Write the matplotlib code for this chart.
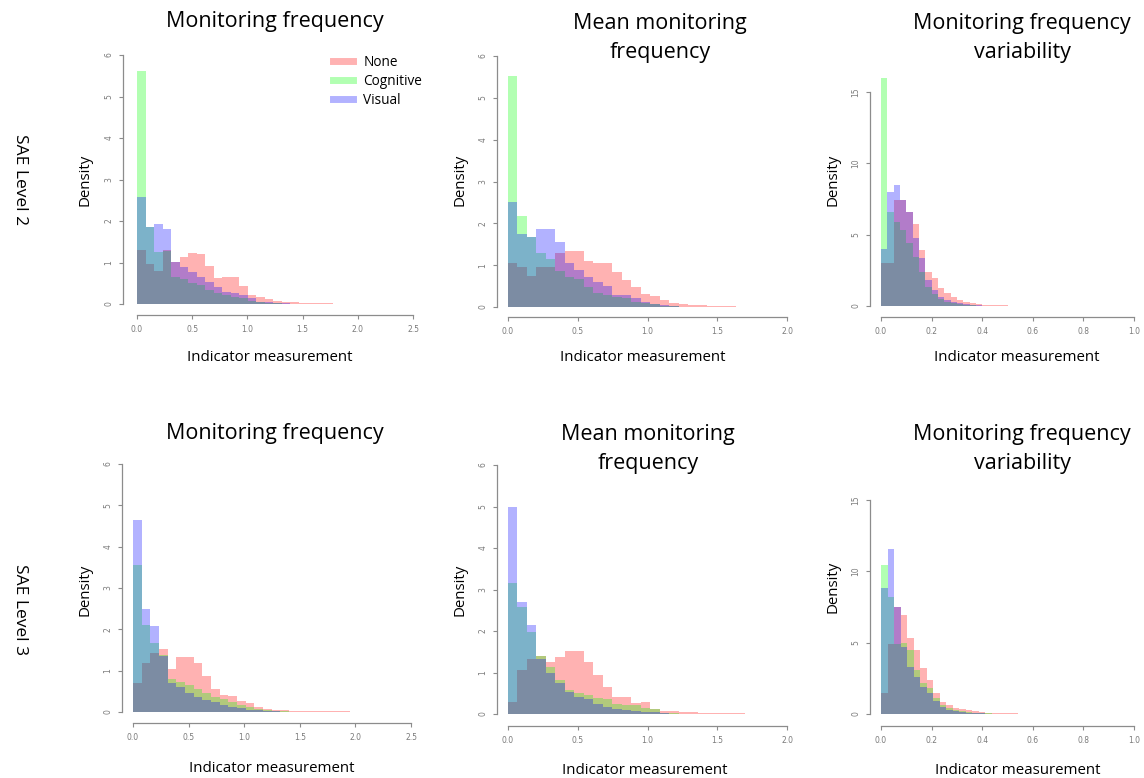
import numpy as np
import matplotlib
matplotlib.use("Agg")
import matplotlib.pyplot as plt
from matplotlib.lines import Line2D

W, H = 1144, 778

groups = ["None", "Cognitive", "Visual"]
colors = [(1, 0, 0, 0.3), (0, 1, 0, 0.3), (0, 0, 1, 0.3)]

titles = ["Monitoring frequency", "Mean monitoring\nfrequency", "Monitoring frequency\nvariability"]
row_labels = ["SAE Level 2", "SAE Level 3"]

# bin widths of each histogram (R breaks)
bin_w = [0.077, 0.068, 0.025, 0.078, 0.068, 0.0257]

# densities per bin
none1 = [1.29, 0.96, 0.80, 1.30, 1.02, 1.14, 1.24, 1.20, 0.92, 0.62, 0.66, 0.64, 0.44,
         0.22, 0.18, 0.13, 0.08, 0.05, 0.04, 0.03, 0.025, 0.02, 0.015, 0.01, 0.01]
cog1 = [5.62, 1.85, 1.25, 1.28, 0.66, 0.60, 0.50, 0.46, 0.34, 0.26, 0.22, 0.18, 0.14,
        0.08, 0.05, 0.03, 0.02, 0.01, 0.01, 0, 0, 0, 0, 0, 0]
vis1 = [2.59, 1.85, 1.93, 1.80, 1.02, 0.90, 0.78, 0.66, 0.54, 0.42, 0.30, 0.27, 0.22,
        0.14, 0.06, 0.04, 0.03, 0.02, 0.01, 0.01, 0, 0, 0, 0, 0]

none2 = [1.06, 0.96, 0.75, 0.96, 0.96, 1.28, 1.35, 1.35, 1.10, 1.04, 1.04, 0.84, 0.65,
         0.48, 0.32, 0.26, 0.16, 0.10, 0.07, 0.05, 0.04, 0.03, 0.02, 0.015, 0.01]
cog2 = [5.51, 2.18, 1.68, 1.30, 1.15, 0.85, 0.72, 0.68, 0.49, 0.34, 0.29, 0.25, 0.21,
        0.13, 0.10, 0.08, 0.03, 0.02, 0.01, 0, 0, 0, 0, 0, 0]
vis2 = [2.52, 1.75, 1.68, 1.86, 1.86, 1.56, 1.04, 0.88, 0.72, 0.60, 0.50, 0.29, 0.29,
        0.21, 0.12, 0.08, 0.04, 0.02, 0.01, 0, 0, 0, 0, 0, 0]

none3 = [3.04, 3.04, 7.43, 7.43, 6.60, 5.75, 3.90, 2.40, 1.94, 1.24, 0.90, 0.65, 0.42,
         0.30, 0.20, 0.12, 0.08, 0.06, 0.05, 0.04, 0.03, 0.02]
cog3 = [15.96, 6.60, 5.90, 5.30, 4.40, 3.46, 2.40, 1.35, 0.84, 0.47, 0.30, 0.20, 0.12,
        0.08, 0.05, 0.03, 0.02, 0.01, 0.01, 0, 0, 0]
vis3 = [4.00, 8.00, 8.48, 7.43, 6.60, 4.74, 3.34, 1.82, 1.12, 0.65, 0.45, 0.30, 0.20,
        0.12, 0.08, 0.05, 0.03, 0.02, 0.01, 0.01, 0, 0]

none4 = [0.69, 1.19, 1.42, 1.52, 1.03, 1.34, 1.34, 1.19, 0.87, 0.55, 0.41, 0.39, 0.27,
         0.21, 0.13, 0.08, 0.05, 0.04, 0.03, 0.03, 0.025, 0.02, 0.02, 0.015, 0.015, 0.01,
         0.01, 0.01, 0.01, 0.01, 0.01, 0.01, 0.01]
cog4 = [3.56, 2.10, 1.66, 1.38, 0.81, 0.73, 0.65, 0.55, 0.47, 0.37, 0.31, 0.25, 0.17,
        0.12, 0.08, 0.05, 0.03, 0.02, 0.01, 0.01, 0, 0, 0, 0, 0, 0, 0, 0, 0, 0, 0, 0, 0]
vis4 = [4.65, 2.50, 2.08, 1.36, 0.69, 0.61, 0.47, 0.37, 0.29, 0.23, 0.17, 0.13, 0.09,
        0.06, 0.04, 0.03, 0.02, 0.01, 0.01, 0, 0, 0, 0, 0, 0, 0, 0, 0, 0, 0, 0, 0, 0]

none5 = [0.30, 1.06, 1.32, 1.40, 1.26, 1.38, 1.53, 1.53, 1.26, 0.94, 0.66, 0.40, 0.40,
         0.26, 0.30, 0.13, 0.08, 0.08, 0.05, 0.04, 0.03, 0.025, 0.02, 0.02, 0.015, 0.01,
         0.01, 0.01, 0.01, 0.01]
cog5 = [3.15, 2.58, 1.98, 1.40, 1.14, 0.82, 0.58, 0.50, 0.46, 0.38, 0.35, 0.24, 0.22,
        0.22, 0.14, 0.13, 0.03, 0.02, 0.01, 0.01, 0, 0, 0, 0, 0, 0, 0, 0, 0, 0]
vis5 = [4.98, 2.70, 2.14, 1.32, 0.98, 0.74, 0.54, 0.42, 0.35, 0.24, 0.18, 0.11, 0.10,
        0.07, 0.06, 0.04, 0.02, 0.01, 0.01, 0, 0, 0, 0, 0, 0, 0, 0, 0, 0, 0]

none6 = [1.45, 4.90, 7.52, 6.94, 5.30, 4.49, 3.20, 2.38, 1.45, 0.86, 0.63, 0.45, 0.35,
         0.25, 0.18, 0.12, 0.08, 0.06, 0.05, 0.04, 0.04, 0.03, 0.03, 0.02, 0.02, 0.02,
         0.015, 0.015, 0.01, 0.01, 0.01, 0.01]
cog6 = [10.45, 8.22, 4.90, 5.00, 4.49, 3.08, 2.15, 1.80, 1.10, 0.60, 0.40, 0.28, 0.20,
        0.13, 0.09, 0.06, 0.04, 0.02, 0.01, 0.01, 0, 0, 0, 0, 0, 0, 0, 0, 0, 0, 0, 0]
vis6 = [8.82, 11.55, 7.52, 4.70, 3.32, 2.62, 1.92, 1.45, 0.93, 0.50, 0.30, 0.20, 0.14,
        0.09, 0.06, 0.04, 0.02, 0.01, 0.01, 0, 0, 0, 0, 0, 0, 0, 0, 0, 0, 0, 0, 0]

panels = [(none1, cog1, vis1), (none2, cog2, vis2), (none3, cog3, vis3),
          (none4, cog4, vis4), (none5, cog5, vis5), (none6, cog6, vis6)]

xticks = [np.arange(0, 2.51, 0.5), np.arange(0, 2.01, 0.5), np.arange(0, 1.01, 0.2)] * 2
yticks = [np.arange(0, 7, 1), np.arange(0, 7, 1), np.arange(0, 16, 5)] * 2

# layout in pixels: axes box (left, right, bottom, top), x ref (px of 0, px of v, v), y ref
boxes = [(123, 424, 315, 45), (497, 798, 317, 46), (870, 1144, 317, 46),
         (122, 422, 723, 454), (497, 798, 726, 455), (870, 1144, 726, 455)]
xref = [(137, 413, 2.5), (508, 787, 2.0), (881, 1134, 1.0),
        (133, 411, 2.5), (508, 787, 2.0), (881, 1134, 1.0)]
yref = [(304, 55, 6), (307, 56, 6), (306, 92, 15),
        (712, 464, 6), (714, 465, 6), (714, 500, 15)]
dens_pos = [(85, 180), (460, 180), (833, 180), (85, 590), (460, 590), (833, 587)]
xlab_pos = [(270, 357), (643, 357), (1017, 357), (272, 768), (645, 770), (1018, 770)]
title_pos = [(275, 22), (660, 38), (1022, 38), (275, 433), (648, 449), (1022, 449)]

fig = plt.figure(figsize=(W / 100, H / 100), dpi=100)
fx = lambda px: px / W
fy = lambda py: 1 - py / H

for i in range(6):
    l, r, b, t = boxes[i]
    ax = fig.add_axes([fx(l), fy(b), fx(r) - fx(l), fy(t) - fy(b)])
    edges = np.arange(len(panels[i][0]) + 1) * bin_w[i]
    for vals, c in zip(panels[i], colors):
        ax.stairs(vals, edges, fill=True, color=c, linewidth=0)

    x0, x1, xv = xref[i]
    sx = (x1 - x0) / xv
    ax.set_xlim((l - x0) / sx, (r - x0) / sx)
    y0, y1, yv = yref[i]
    sy = (y0 - y1) / yv
    ax.set_ylim((y0 - b) / sy, (y0 - t) / sy)

    for s in ["top", "right"]:
        ax.spines[s].set_visible(False)
    for s in ["left", "bottom"]:
        ax.spines[s].set_color("#8c8c8c")
        ax.spines[s].set_linewidth(0.9)
    ax.spines["bottom"].set_bounds(xticks[i][0], xticks[i][-1])
    ax.spines["left"].set_bounds(yticks[i][0], yticks[i][-1])
    ax.set_xticks(xticks[i])
    ax.set_xticklabels([f"{v:.1f}" for v in xticks[i]])
    ax.set_yticks(yticks[i])
    ax.set_yticklabels([str(int(v)) for v in yticks[i]], rotation=90, va="center")
    ax.tick_params(direction="out", length=3, width=0.8, color="#8c8c8c",
                   labelsize=5.5, labelcolor="#7a7a7a", pad=4)
    ax.patch.set_alpha(0)

    px, py = dens_pos[i]
    fig.text(fx(px), fy(py), "Density", rotation=90, ha="center", va="center",
             fontsize=10.8, family="Open Sans")
    px, py = xlab_pos[i]
    fig.text(fx(px), fy(py), "Indicator measurement", ha="center", va="center",
             fontsize=10.8, family="Open Sans")
    px, py = title_pos[i]
    fig.text(fx(px), fy(py), titles[i % 3], ha="center", va="center",
             fontsize=15.5, family="Open Sans", linespacing=1.45)

    if i == 0:
        handles = [Line2D([], [], color=c, lw=5) for c in colors]
        ax.legend(handles, groups, loc="upper left", frameon=False,
                  bbox_to_anchor=(fx(321), fy(43)), bbox_transform=fig.transFigure,
                  prop={"family": "Open Sans", "size": 9.8}, handlelength=1.45,
                  labelspacing=0.28, handletextpad=0.75)

fig.text(fx(20), fy(180), row_labels[0], rotation=-90, ha="center", va="center",
         fontsize=12.5, family="Open Sans")
fig.text(fx(20), fy(610), row_labels[1], rotation=-90, ha="center", va="center",
         fontsize=12.5, family="Open Sans")

fig.savefig("out.png", dpi=100)
